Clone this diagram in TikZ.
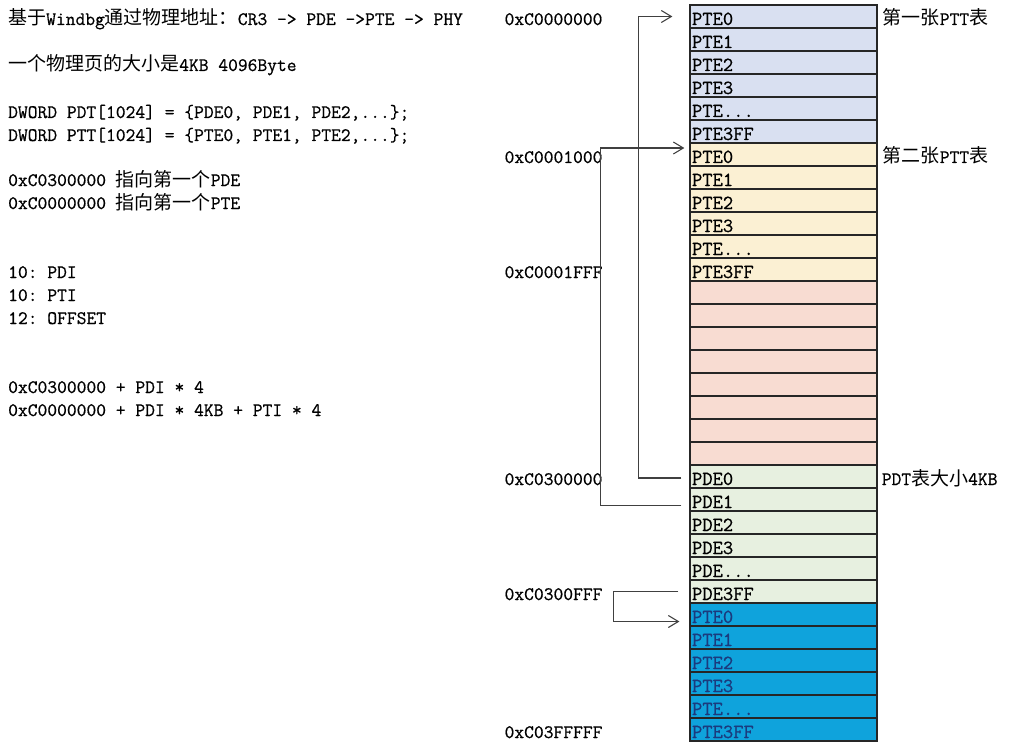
\documentclass[tikz,border=0pt]{standalone}
\usepackage{fontspec}
\usepackage{tikz}
\usetikzlibrary{arrows.meta}
\setmonofont{Latin Modern Mono}[FakeBold=0.7]
\newfontfamily\zhfont{Noto Sans CJK SC}[Scale=1.0]
\newcommand\zh[1]{{\zhfont #1}}
\newcommand\tdots{...}
\definecolor{ptta}{HTML}{D9E0F1}
\definecolor{pttb}{HTML}{FBF0D3}
\definecolor{spare}{HTML}{F8DCD2}
\definecolor{pdt}{HTML}{E7F0E0}
\definecolor{pttc}{HTML}{0FA3DC}
\definecolor{cyantxt}{HTML}{1B3B7E}
\definecolor{wire}{HTML}{404040}

\begin{document}
\begin{tikzpicture}[x=1pt,y=-1pt,font=\fontsize{19}{23}\selectfont\ttfamily]
\tikzstyle{cell}=[rectangle,draw=black!85,line width=1.2pt,minimum width=187pt,minimum height=23pt,inner xsep=2pt,inner ysep=0pt,text width=183pt,align=left,text height=20pt,text depth=3pt,font=\fontsize{20}{23}\selectfont\ttfamily]
\tikzstyle{note}=[anchor=base west,inner sep=0pt]
\tikzstyle{addr}=[anchor=base west,inner sep=0pt]
\tikzstyle{link}=[draw=wire,line width=1.1pt,-{Straight Barb[length=10pt,width=12pt]}]
\useasboundingbox (0,0) rectangle (1036,749);

\node[note] (title) at (8,25) {\zh{基于}Windbg\zh{通过物理地址：}CR3 -> PDE ->PTE -> PHY};
\node[note] (pagesz) at (8,71) {\zh{一个物理页的大小是}4KB 4096Byte};
\node[note] (pdtdecl) at (8,118) {DWORD PDT[1024] = \{PDE0, PDE1, PDE2,...\};};
\node[note] (pttdecl) at (8,141) {DWORD PTT[1024] = \{PTE0, PTE1, PTE2,...\};};
\node[note] (pdebase) at (8,186) {0xC0300000 \zh{指向第一个}PDE};
\node[note] (ptebase) at (8,209) {0xC0000000 \zh{指向第一个}PTE};
\node[note] (bitpdi) at (8,278) {10: PDI};
\node[note] (bitpti) at (8,301) {10: PTI};
\node[note] (bitoff) at (8,324) {12: OFFSET};
\node[note] (pdeaddr) at (8,393) {0xC0300000 + PDI * 4};
\node[note] (pteaddr) at (8,416) {0xC0000000 + PDI * 4KB + PTI * 4};

\foreach \grp/\col/\pre/\tc in {0/ptta/PTE/black,6/pttb/PTE/black,20/pdt/PDE/black,26/pttc/PTE/cyantxt}
  \foreach \suf [count=\k from 0] in {0,1,2,3,\tdots,3FF} {
    \pgfmathtruncatemacro\i{\grp+\k}
    \node[cell,fill=\col,text=\tc] (r\i) at (783.5,16.5+23*\i) {\pre\suf};
  }
\foreach \i in {12,...,19}
  \node[cell,fill=spare] (r\i) at (783.5,16.5+23*\i) {};

\node[addr] (a0) at ([xshift=-185pt]r0.base west) {0xC0000000};
\node[addr] (a1) at ([xshift=-185pt]r6.base west) {0xC0001000};
\node[addr] (a2) at ([xshift=-185pt]r11.base west) {0xC0001FFF};
\node[addr] (a3) at ([xshift=-185pt]r20.base west) {0xC0300000};
\node[addr] (a4) at ([xshift=-185pt]r25.base west) {0xC0300FFF};
\node[addr] (a5) at ([xshift=-185pt]r31.base west) {0xC03FFFFF};

\node[addr] (t0) at ([xshift=5pt]r0.base east) {\zh{第一张}PTT\zh{表}};
\node[addr] (t1) at ([xshift=5pt]r6.base east) {\zh{第二张}PTT\zh{表}};
\node[addr] (t2) at ([xshift=4pt]r20.base east) {PDT\zh{表大小}4KB};

\draw[link] ([xshift=-8pt,yshift=-1.5pt]r20.west) -- ++(-43,0) |- ([xshift=-17pt]r0.west);
\draw[link] ([xshift=-8pt,yshift=-6pt]r21.west) -- ++(-81,0) |- ([xshift=-5pt,yshift=6.5pt]r6.west);
\draw[link] ([xshift=-11pt]r25.west) -- ++(-65,0) |- ([xshift=-10pt,yshift=-7pt]r26.west);
\end{tikzpicture}
\end{document}
